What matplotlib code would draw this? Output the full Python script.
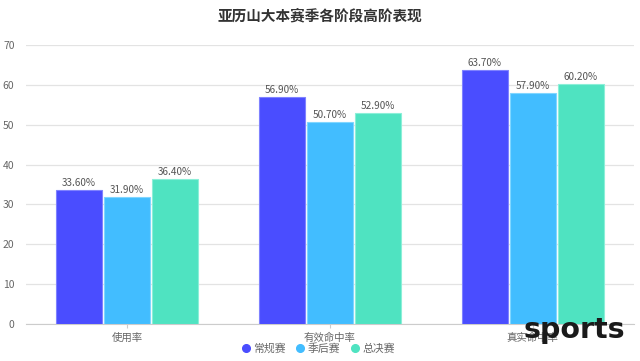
import matplotlib
matplotlib.use("Agg")
import matplotlib.pyplot as plt
import numpy as np
from matplotlib.lines import Line2D

plt.rcParams['font.family'] = ['Noto Sans CJK SC', 'DejaVu Sans']

categories = ["使用率", "有效命中率", "真实命中率"]
series_names = ["常规赛", "季后赛", "总决赛"]
regular = [33.6, 56.9, 63.7]
playoffs = [31.9, 50.7, 57.9]
finals = [36.4, 52.9, 60.2]
colors = ["#4a4dff", "#42bdff", "#4fe3c1"]
edges = ["#7f82ff", "#80d6ff", "#8cefd8"]

fig = plt.figure(figsize=(6.4, 3.61), dpi=100)
ax = fig.add_axes([0.04, 0.1025, 0.951, 0.7725])

x = np.arange(len(categories))
w = 0.227
gap = 0.01
for i, (vals, c, ec, name) in enumerate(zip([regular, playoffs, finals], colors, edges, series_names)):
    pos = x + (i - 1) * (w + gap)
    ax.bar(pos, vals, width=w, color=c, edgecolor=ec, linewidth=0.8, label=name, zorder=3)
    for p, v in zip(pos, vals):
        ax.text(p, v + 0.6, f"{v:.2f}%", ha='center', va='bottom', fontsize=7.2, color='#555555', zorder=4)

ax.set_xlim(-0.5, 2.5)
ax.set_ylim(0, 70)
ax.set_yticks(range(0, 71, 10))
ax.set_xticks(x)
ax.set_xticklabels(categories, fontsize=7.5, color='#666666')
ax.tick_params(axis='y', labelsize=7.5, labelcolor='#666666', length=0, pad=8)
ax.tick_params(axis='x', length=3, color='#cccccc', pad=3)
ax.yaxis.grid(True, color='#e3e3e3', linewidth=0.9, zorder=0)
for s in ['top', 'right', 'left']:
    ax.spines[s].set_visible(False)
ax.spines['bottom'].set_color('#cccccc')

fig.text(0.5, 0.957, "亚历山大本赛季各阶段高阶表现", ha='center', va='center', fontsize=10.5, fontweight='bold', color='#333333')

handles = [Line2D([0], [0], marker='o', linestyle='none', markersize=5.5, markerfacecolor=c, markeredgecolor=c) for c in colors]
fig.legend(handles, series_names, loc='center', bbox_to_anchor=(0.497, 0.035), ncol=3, frameon=False, fontsize=7.8,
           handlelength=0.8, handletextpad=0.25, columnspacing=1.0, labelcolor='#666666')

fig.text(0.977, 0.085, "sports", ha='right', va='center', fontsize=20.5, fontweight='bold', color='#1a1a1a', family='DejaVu Sans')

fig.savefig("out.png", dpi=100)
